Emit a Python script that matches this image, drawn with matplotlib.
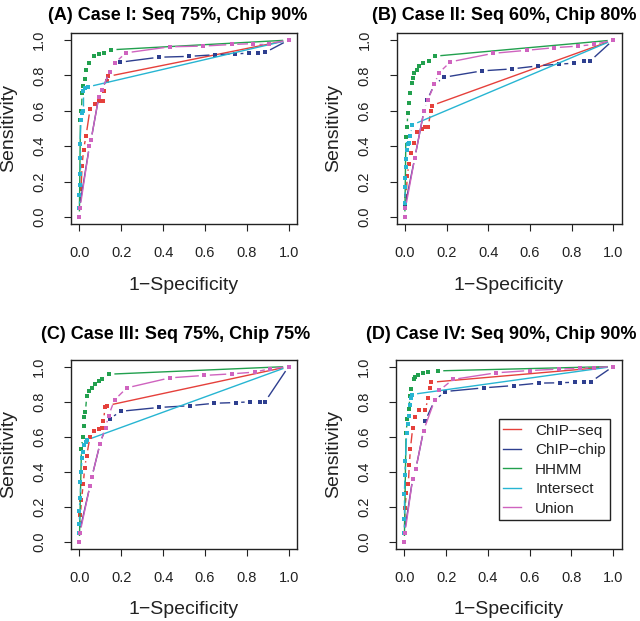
import numpy as np
import matplotlib
matplotlib.use("Agg")
import matplotlib.pyplot as plt
from matplotlib.collections import LineCollection
from matplotlib.lines import Line2D

plt.rcParams['font.family'] = ['Liberation Sans', 'DejaVu Sans']

methods = ["ChIP\u2212seq", "ChIP\u2212chip", "HHMM", "Intersect", "Union"]
colors = ["#E5403B", "#2E3F8F", "#22A04E", "#27B5D2", "#CF63BF"]
titles = ["(A) Case I: Seq 75%, Chip 90%", "(B) Case II: Seq 60%, Chip 80%",
          "(C) Case III: Seq 75%, Chip 75%", "(D) Case IV: Seq 90%, Chip 90%"]
ticks = [0.0, 0.2, 0.4, 0.6, 0.8, 1.0]

# ---- (A) ----
a_seq_x = [0, 0.008, 0.013, 0.02, 0.032, 0.051, 0.077, 0.096, 0.112, 0.12, 0.13, 0.138, 1]
a_seq_y = [0.05, 0.16, 0.29, 0.38, 0.46, 0.61, 0.64, 0.653, 0.653, 0.71, 0.767, 0.795, 1]
a_chip_x = [0, 0.048, 0.056, 0.093, 0.109, 0.144, 0.171, 0.196, 0.38, 0.525, 0.648, 0.744, 0.81, 0.856, 0.888, 1]
a_chip_y = [0.05, 0.40, 0.436, 0.68, 0.72, 0.82, 0.871, 0.875, 0.903, 0.908, 0.917, 0.922, 0.926, 0.926, 0.93, 1]
a_hhmm_x = [0, 0.005, 0.01, 0.013, 0.019, 0.026, 0.032, 0.048, 0.069, 0.093, 0.117, 0.151, 1]
a_hhmm_y = [0, 0.55, 0.6, 0.70, 0.74, 0.78, 0.83, 0.87, 0.909, 0.92, 0.926, 0.945, 1]
a_int_x = [0, 0, 0.003, 0.003, 0.003, 0.003, 0.008, 0.013, 0.019, 0.019, 0.026, 0.04, 1]
a_int_y = [0.05, 0.123, 0.18, 0.242, 0.335, 0.41, 0.55, 0.587, 0.597, 0.71, 0.73, 0.735, 1]
a_uni_x = [0, 0.003, 0.048, 0.056, 0.093, 0.109, 0.144, 0.168, 0.224, 0.432, 0.592, 0.728, 0.832, 0.904, 1]
a_uni_y = [0, 0.05, 0.40, 0.436, 0.68, 0.72, 0.822, 0.871, 0.928, 0.962, 0.966, 0.975, 0.98, 0.98, 1]

# ---- (B) ----
b_seq_x = [0, 0.006, 0.012, 0.019, 0.03, 0.043, 0.056, 0.08, 0.096, 0.112, 0.125, 0.13, 1]
b_seq_y = [0.05, 0.12, 0.23, 0.30, 0.36, 0.42, 0.48, 0.50, 0.507, 0.51, 0.60, 0.63, 1]
b_chip_x = [0, 0.048, 0.092, 0.107, 0.142, 0.19, 0.371, 0.515, 0.638, 0.739, 0.811, 0.859, 0.891, 1]
b_chip_y = [0.057, 0.335, 0.60, 0.66, 0.75, 0.79, 0.826, 0.837, 0.854, 0.864, 0.869, 0.879, 0.883, 1]
b_hhmm_x = [0, 0.005, 0.011, 0.014, 0.019, 0.024, 0.032, 0.038, 0.046, 0.059, 0.07, 0.086, 0.115, 0.144, 1]
b_hhmm_y = [0, 0.45, 0.51, 0.587, 0.644, 0.70, 0.758, 0.786, 0.814, 0.833, 0.852, 0.871, 0.88, 0.909, 1]
b_int_x = [0, 0, 0.002, 0.002, 0.005, 0.006, 0.011, 0.016, 0.02, 0.027, 0.035, 1]
b_int_y = [0.05, 0.08, 0.17, 0.22, 0.28, 0.33, 0.38, 0.41, 0.42, 0.455, 0.52, 1]
b_uni_x = [0, 0.003, 0.048, 0.092, 0.11, 0.142, 0.163, 0.219, 0.424, 0.584, 0.718, 0.832, 0.907, 1]
b_uni_y = [0, 0.05, 0.335, 0.60, 0.66, 0.75, 0.814, 0.877, 0.925, 0.942, 0.957, 0.966, 0.975, 1]

# ---- (C) ----
c_seq_x = [0, 0.005, 0.01, 0.019, 0.025, 0.035, 0.051, 0.072, 0.094, 0.107, 0.115, 0.123, 0.133, 1]
c_seq_y = [0.05, 0.15, 0.24, 0.33, 0.42, 0.49, 0.60, 0.633, 0.642, 0.646, 0.69, 0.766, 0.777, 1]
c_chip_x = [0, 0.051, 0.06, 0.099, 0.125, 0.144, 0.197, 0.381, 0.528, 0.645, 0.747, 0.816, 0.864, 0.888, 1]
c_chip_y = [0.05, 0.32, 0.37, 0.56, 0.65, 0.70, 0.744, 0.766, 0.776, 0.79, 0.794, 0.798, 0.80, 0.80, 1]
c_hhmm_x = [0, 0.01, 0.016, 0.022, 0.024, 0.029, 0.035, 0.048, 0.061, 0.077, 0.096, 0.109, 0.141, 1]
c_hhmm_y = [0, 0.53, 0.60, 0.66, 0.71, 0.74, 0.83, 0.86, 0.88, 0.90, 0.918, 0.928, 0.956, 1]
c_int_x = [0, 0, 0, 0.003, 0.003, 0.008, 0.013, 0.016, 0.024, 0.03, 0.035, 1]
c_int_y = [0.05, 0.10, 0.177, 0.25, 0.34, 0.40, 0.48, 0.51, 0.55, 0.57, 0.58, 1]
c_uni_x = [0, 0.003, 0.051, 0.06, 0.099, 0.125, 0.14, 0.168, 0.227, 0.432, 0.597, 0.728, 0.837, 0.912, 1]
c_uni_y = [0, 0.05, 0.32, 0.37, 0.56, 0.65, 0.72, 0.809, 0.878, 0.935, 0.949, 0.958, 0.968, 0.987, 1]

# ---- (D) ----
d_seq_x = [0, 0.003, 0.01, 0.019, 0.024, 0.029, 0.04, 0.051, 0.072, 0.099, 0.115, 0.125, 0.13, 1]
d_seq_y = [0.05, 0.19, 0.28, 0.33, 0.44, 0.53, 0.65, 0.71, 0.75, 0.75, 0.82, 0.88, 0.91, 1]
d_chip_x = [0, 0.04, 0.055, 0.092, 0.10, 0.145, 0.195, 0.38, 0.523, 0.643, 0.744, 0.815, 0.86, 0.895, 1]
d_chip_y = [0.05, 0.36, 0.415, 0.634, 0.69, 0.806, 0.857, 0.878, 0.891, 0.905, 0.907, 0.91, 0.91, 0.914, 1]
d_hhmm_x = [0, 0.008, 0.015, 0.022, 0.027, 0.032, 0.044, 0.051, 0.067, 0.091, 0.115, 0.16, 1]
d_hhmm_y = [0, 0.62, 0.70, 0.76, 0.83, 0.87, 0.93, 0.939, 0.952, 0.963, 0.966, 0.975, 1]
d_int_x = [0, 0, 0, 0.003, 0.005, 0.011, 0.016, 0.022, 0.027, 0.03, 0.035, 1]
d_int_y = [0.05, 0.13, 0.27, 0.38, 0.46, 0.62, 0.67, 0.72, 0.78, 0.82, 0.84, 1]
d_uni_x = [0, 0.003, 0.04, 0.055, 0.092, 0.145, 0.168, 0.232, 0.44, 0.60, 0.74, 0.84, 0.907, 1]
d_uni_y = [0, 0.05, 0.36, 0.415, 0.634, 0.806, 0.863, 0.926, 0.964, 0.977, 0.985, 0.99, 0.994, 1]

panels = [
    [(a_seq_x, a_seq_y), (a_chip_x, a_chip_y), (a_hhmm_x, a_hhmm_y), (a_int_x, a_int_y), (a_uni_x, a_uni_y)],
    [(b_seq_x, b_seq_y), (b_chip_x, b_chip_y), (b_hhmm_x, b_hhmm_y), (b_int_x, b_int_y), (b_uni_x, b_uni_y)],
    [(c_seq_x, c_seq_y), (c_chip_x, c_chip_y), (c_hhmm_x, c_hhmm_y), (c_int_x, c_int_y), (c_uni_x, c_uni_y)],
    [(d_seq_x, d_seq_y), (d_chip_x, d_chip_y), (d_hhmm_x, d_hhmm_y), (d_int_x, d_int_y), (d_uni_x, d_uni_y)],
]

W, H = 640, 621
# axes boxes in pixels: left, top, right, bottom
boxes = [(71, 33, 297, 224), (396.5, 33, 621.5, 224),
         (71, 359.5, 297, 548.5), (396, 359.5, 621.5, 548.5)]
title_pos = [(178, 15), (504, 15), (176, 335), (501, 335)]


def draw_b(ax, xs, ys, color, gap=5.5):
    # R style type="b": points joined by lines that stop short of each point
    pts = ax.transData.transform(np.column_stack([xs, ys]))
    inv = ax.transData.inverted()
    segs = []
    for p, q in zip(pts[:-1], pts[1:]):
        d = q - p
        L = np.hypot(d[0], d[1])
        if L <= 2 * gap:
            continue
        u = d / L
        segs.append(inv.transform(np.array([p + u * gap, q - u * gap])))
    ax.add_collection(LineCollection(segs, colors=color, linewidths=1.0))
    ax.plot(xs, ys, ls='none', marker='s', ms=2.7, color=color, mew=0)


fig = plt.figure(figsize=(W / 100, H / 100), dpi=100)

for i, (l, t, r, b) in enumerate(boxes):
    ax = fig.add_axes([l / W, 1 - b / H, (r - l) / W, (b - t) / H])
    ax.set_xlim(-0.04, 1.04)
    ax.set_ylim(-0.04, 1.04)
    ax.autoscale(False)
    for (xs, ys), c in zip(panels[i], colors):
        draw_b(ax, xs, ys, c)
    ax.set_xticks(ticks)
    ax.set_yticks(ticks)
    ax.set_xticklabels(["%.1f" % v for v in ticks])
    ax.set_yticklabels(["%.1f" % v for v in ticks], rotation=90, va='center')
    ax.tick_params(direction='out', length=5, width=0.8, labelsize=10.5,
                   colors='#222222')
    ax.tick_params(axis='x', pad=11)
    ax.tick_params(axis='y', pad=13)
    for s in ax.spines.values():
        s.set_linewidth(1.0)
        s.set_color('#222222')
    ax.set_xlabel("1\u2212Specificity", fontsize=14, color='#222222')
    ax.set_ylabel("Sensitivity", fontsize=14, color='#222222')
    ax.xaxis.label.set_va('center')
    ax.yaxis.label.set_va('center')
    ax.xaxis.set_label_coords(0.5, -61 / (b - t))
    ax.yaxis.set_label_coords(-(l - 9 - (0 if l < 300 else 325)) / (r - l), 0.5)
    fig.text(title_pos[i][0] / W, 1 - title_pos[i][1] / H, titles[i],
             ha='center', va='center', fontsize=13, fontweight='bold')

    if i == 3:
        handles = [Line2D([0], [0], color=c, lw=1.0) for c in colors]
        leg = ax.legend(handles, methods, loc='upper left',
                        bbox_to_anchor=(0.456, 0.684), fontsize=11,
                        labelspacing=0.36, handlelength=1.2, handletextpad=0.9,
                        borderpad=0.28, borderaxespad=0, fancybox=False,
                        framealpha=1, edgecolor='#222222')
        leg.get_frame().set_linewidth(1.0)
        for txt in leg.get_texts():
            txt.set_color('#222222')

fig.savefig("out.png", dpi=100)
